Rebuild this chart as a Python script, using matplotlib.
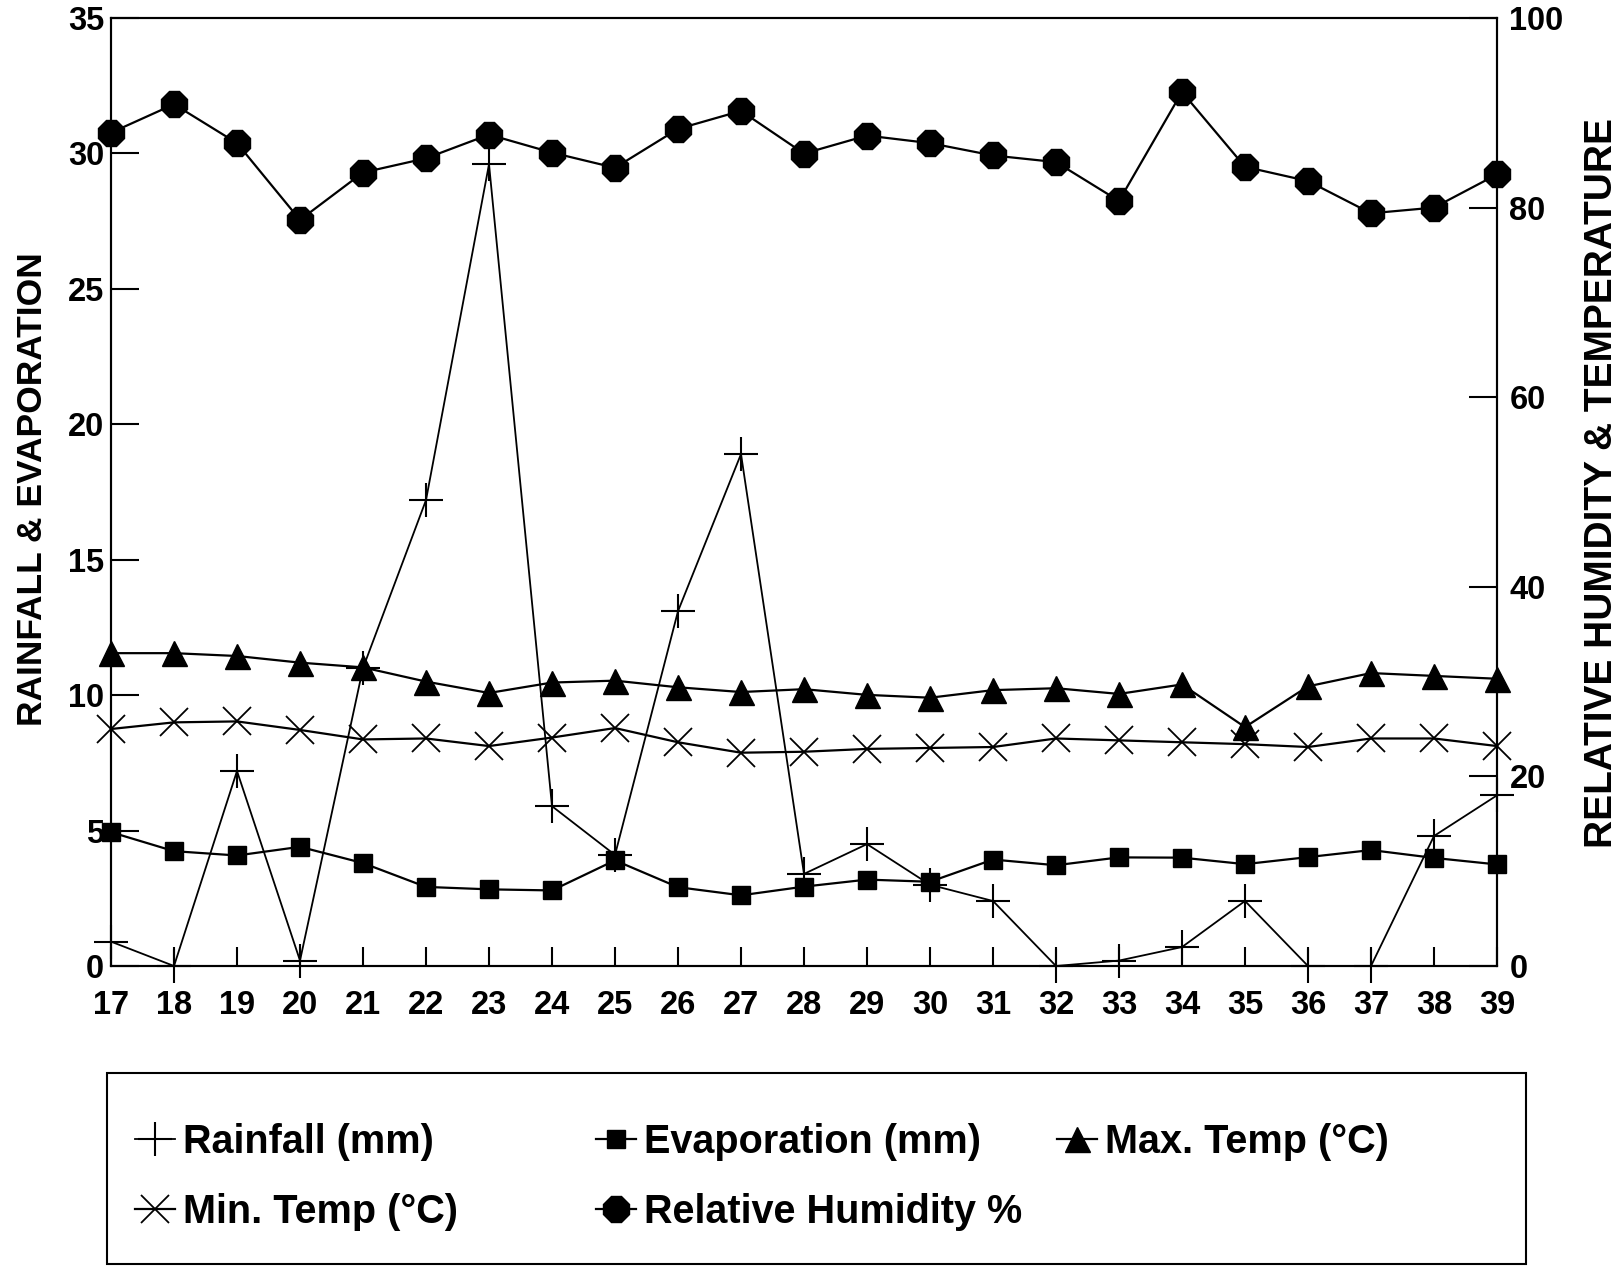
import matplotlib
matplotlib.use('Agg')
import matplotlib.pyplot as plt
from matplotlib.lines import Line2D
from matplotlib.patches import Rectangle

plt.rcParams['font.family'] = ['Liberation Sans', 'DejaVu Sans']
plt.rcParams['font.weight'] = 'bold'

# ---------------- data ----------------
days = list(range(17, 40))
rainfall = [0.9, 0.0, 7.2, 0.2, 11.0, 17.2, 29.6, 5.9, 4.1, 13.1, 18.9, 3.4,
            4.5, 3.0, 2.4, 0.0, 0.2, 0.7, 2.4, 0.0, 0.0, 4.8, 6.3]
evaporation = [4.94, 4.24, 4.08, 4.40, 3.80, 2.92, 2.83, 2.79, 3.90, 2.91, 2.61,
               2.93, 3.19, 3.11, 3.93, 3.72, 4.01, 4.00, 3.76, 4.02, 4.28, 3.99, 3.75]
max_temp = [33.0, 33.0, 32.7, 32.0, 31.5, 30.0, 28.8, 29.9, 30.1, 29.4, 28.9, 29.2,
            28.6, 28.3, 29.1, 29.3, 28.7, 29.7, 25.2, 29.5, 30.9, 30.6, 30.3]
min_temp = [25.0, 25.7, 25.8, 24.9, 23.9, 24.0, 23.2, 24.1, 25.1, 23.6, 22.5, 22.6,
            22.9, 23.0, 23.1, 24.0, 23.8, 23.6, 23.4, 23.1, 24.0, 24.0, 23.2]
humidity = [87.9, 90.9, 86.8, 78.7, 83.7, 85.2, 87.7, 85.8, 84.2, 88.3, 90.2, 85.7,
            87.6, 86.8, 85.5, 84.8, 80.7, 92.2, 84.3, 82.8, 79.4, 80.0, 83.5]
left_ticks = [0, 5, 10, 15, 20, 25, 30, 35]
right_ticks = [0, 20, 40, 60, 80, 100]
left_label = 'RAINFALL & EVAPORATION'
right_label = 'RELATIVE HUMIDITY & TEMPERATURE'
labels = ['Rainfall (mm)', 'Evaporation (mm)', 'Max. Temp (°C)',
          'Min. Temp (°C)', 'Relative Humidity %']

# ---------------- figure ----------------
W, H = 1624, 1275
fig = plt.figure(figsize=(W / 100, H / 100), dpi=100)
ax = fig.add_axes([111 / W, 1 - 966 / H, (1497 - 111) / W, (966 - 18) / H])
ax2 = ax.twinx()

styles = {
    'rain': dict(marker='+', ms=25, mew=1.5, lw=1.3, color='black'),
    'evap': dict(marker='s', ms=13, lw=1.6, color='black'),
    'tmax': dict(marker='^', ms=18, lw=1.6, color='black'),
    'tmin': dict(marker='x', ms=20, mew=1.3, lw=1.6, color='black'),
    'rh':   dict(marker='8', ms=20, lw=1.6, color='black'),
}

ax.plot(days, rainfall, clip_on=False, zorder=4, **styles['rain'])
ax.plot(days, evaporation, clip_on=False, zorder=3, **styles['evap'])
ax2.plot(days, max_temp, clip_on=False, zorder=3, **styles['tmax'])
ax2.plot(days, min_temp, clip_on=False, zorder=3, **styles['tmin'])
ax2.plot(days, humidity, clip_on=False, zorder=3, **styles['rh'])

ax.set_xlim(17, 39)
ax.set_ylim(0, 35)
ax2.set_ylim(0, 100)
ax.set_xticks(days)
ax.set_xticklabels([str(d) for d in days])
ax.set_yticks(left_ticks)
ax2.set_yticks(right_ticks)

ax.tick_params(axis='y', direction='in', length=20, width=1.5, labelsize=23.5, pad=5)
ax.tick_params(axis='x', direction='in', length=13.5, width=1.5, labelsize=23.5, pad=17)
ax2.tick_params(axis='y', direction='in', length=20, width=1.5, labelsize=23.5, pad=9)
for a in (ax, ax2):
    for s in a.spines.values():
        s.set_linewidth(1.5)

fig.text(33 / W, 1 - 489 / H, left_label, rotation=90, ha='center', va='center',
         fontsize=25.5, fontweight='bold')
fig.text(1602 / W, 1 - 483 / H, right_label, rotation=90, ha='center', va='center',
         fontsize=28, fontweight='bold')

# ---------------- legend ----------------
fig.add_artist(Rectangle((107 / W, 1 - 1264 / H), (1526 - 107) / W, (1264 - 1073) / H,
                         transform=fig.transFigure, fill=False, lw=1.5, color='black'))
fs = 28.5
fs_px = fs * 100 / 72
hl = 1.0
entries = [
    ('rain', labels[0], 155, 1142),
    ('evap', labels[1], 616, 1142),
    ('tmax', labels[2], 1077, 1142),
    ('tmin', labels[3], 155, 1212),
    ('rh', labels[4], 616, 1212),
]
for key, lab, mx, my in entries:
    h = Line2D([], [], **styles[key])
    left = mx - hl * fs_px / 2
    fig.legend(handles=[h], labels=[lab], loc='center left',
               bbox_to_anchor=(left / W, 1 - my / H), frameon=False,
               prop={'size': fs, 'weight': 'bold'}, handlelength=hl,
               handletextpad=0.22, borderpad=0, borderaxespad=0, numpoints=1)

fig.savefig('out.png', dpi=100, facecolor='white')
